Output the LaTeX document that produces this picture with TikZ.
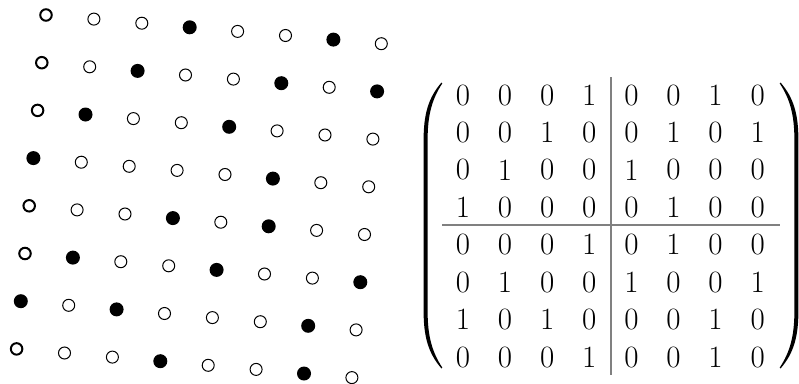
\documentclass[tikz,border=0pt]{standalone}
\usepackage{fontspec}
\setmainfont{Latin Modern Roman}
\begin{document}
\begin{tikzpicture}[x=1pt,y=-1pt,
  opendot/.style={circle,draw,line width=1pt,inner sep=0pt,minimum size=12pt},
  thickdot/.style={circle,draw,line width=2pt,inner sep=0pt,minimum size=11.5pt},
  fulldot/.style={circle,fill,inner sep=0pt,minimum size=14pt},
  entry/.style={inner sep=0pt,font=\fontsize{31}{37}\selectfont},
  rule/.style={draw=black!50,line width=1.1pt}]
\useasboundingbox (0,0) rectangle (799,383);
% dot lattice and matrix entries
\foreach \row [count=\i] in {{0,0,0,1,0,0,1,0},{0,0,1,0,0,1,0,1},{0,1,0,0,1,0,0,0},{1,0,0,0,0,1,0,0},{0,0,0,1,0,1,0,0},{0,1,0,0,1,0,0,1},{1,0,1,0,0,0,1,0},{0,0,0,1,0,0,1,0}}{
  \foreach \v [count=\j] in \row {
    \pgfmathsetmacro{\px}{46+47.9*(\j-1)-4.2*(\i-1)}
    \pgfmathsetmacro{\py}{15+4.1*(\j-1)+47.7*(\i-1)}
    \ifnum\v=1
      \node[fulldot] (d-\i-\j) at (\px,\py) {};
    \else
      \ifnum\j=1
        \node[thickdot] (d-\i-\j) at (\px,\py) {};
      \else
        \node[opendot] (d-\i-\j) at (\px,\py) {};
      \fi
    \fi
    \node[entry] (m-\i-\j) at ({463+42.1*(\j-1)},{95+37.43*(\i-1)}) {\v};
  }
}
% block rules
\draw[rule] (611,77) -- (611,375);
\draw[rule] (442,225) -- (780,225);
% parentheses
\fill (441.5,82.5) .. controls (428,98) and (423.6,115) .. (423.6,140)
  -- (423.6,311) .. controls (423.6,336) and (428,353) .. (441.5,368.5)
  -- (442.3,367.6) .. controls (432,352) and (427.6,336) .. (427.6,311)
  -- (427.6,140) .. controls (427.6,115) and (432,99) .. (442.3,83.4) -- cycle;
\fill (780.5,82.5) .. controls (794,98) and (798.4,115) .. (798.4,140)
  -- (798.4,311) .. controls (798.4,336) and (794,353) .. (780.5,368.5)
  -- (779.7,367.6) .. controls (790,352) and (794.4,336) .. (794.4,311)
  -- (794.4,140) .. controls (794.4,115) and (790,99) .. (779.7,83.4) -- cycle;
\end{tikzpicture}
\end{document}
